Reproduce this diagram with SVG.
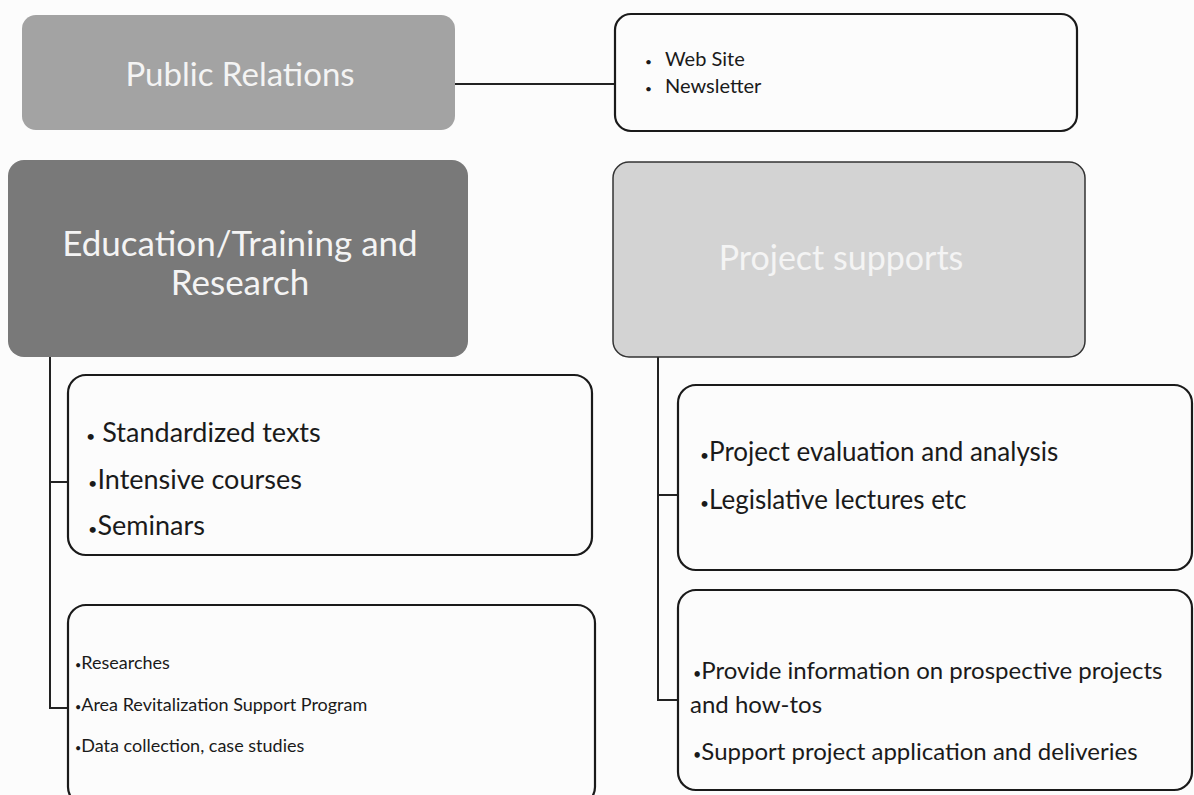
<svg xmlns="http://www.w3.org/2000/svg" width="1194" height="795" viewBox="0 0 1194 795">
<style>
.hd{font-family:Lato,"Open Sans",sans-serif;fill:#f4f4f4;text-anchor:middle}
.bx{fill:#fcfcfc;stroke:#1a1a1a;stroke-width:2.2}
.t{font-family:Lato,"Open Sans",sans-serif;fill:#1a1a1a}
.b{font-size:60%}
.cn{fill:none;stroke:#222;stroke-width:2}
</style>
<rect width="1194" height="795" fill="#fcfcfc"/>
<g id="connectors">
<line class="cn" x1="455" y1="84" x2="615" y2="84"/>
<path class="cn" d="M50 357 V708 H68 M50 482 H68"/>
<path class="cn" d="M658 357 V700 H678 M658 495 H678"/>
</g>
<g id="public-relations">
<rect x="22" y="15" width="433" height="115" rx="14" fill="#a3a3a3"/>
<text class="hd" x="240" y="86" font-size="33">Public Relations</text>
</g>
<g id="pr-items">
<rect class="bx" x="615" y="14" width="462" height="117" rx="16"/>
<text class="t" font-size="20"><tspan x="645" y="66" class="b">•</tspan><tspan x="665" y="66">Web Site</tspan><tspan x="645" y="93" class="b">•</tspan><tspan x="665" y="93">Newsletter</tspan></text>
</g>
<g id="education">
<rect x="8" y="160" width="460" height="197" rx="16" fill="#797979"/>
<text class="hd" font-size="35"><tspan x="240" y="256">Education/Training and</tspan><tspan x="240" y="295">Research</tspan></text>
</g>
<g id="project-supports">
<rect x="613" y="162" width="472" height="195" rx="16" fill="#d3d3d3" stroke="#333" stroke-width="1.5"/>
<text class="hd" x="841" y="270" font-size="34" fill="#fafafa">Project supports</text>
</g>
<g id="edu-courses">
<rect class="bx" x="68" y="375" width="524" height="180" rx="18"/>
<text class="t" font-size="27"><tspan x="86" y="442"><tspan class="b">•</tspan> Standardized texts</tspan><tspan x="88" y="489"><tspan class="b">•</tspan>Intensive courses</tspan><tspan x="88" y="535"><tspan class="b">•</tspan>Seminars</tspan></text>
</g>
<g id="edu-research">
<rect class="bx" x="68" y="605" width="527" height="200" rx="18"/>
<text class="t" font-size="18"><tspan x="75" y="669"><tspan class="b">•</tspan>Researches</tspan><tspan x="75" y="711"><tspan class="b">•</tspan>Area Revitalization Support Program</tspan><tspan x="75" y="752"><tspan class="b">•</tspan>Data collection, case studies</tspan></text>
</g>
<g id="ps-evaluation">
<rect class="bx" x="678" y="385" width="514" height="185" rx="18"/>
<text class="t" font-size="26"><tspan x="700" y="461"><tspan class="b">•</tspan>Project evaluation and analysis</tspan><tspan x="700" y="509"><tspan class="b">•</tspan>Legislative lectures etc</tspan></text>
</g>
<g id="ps-information">
<rect class="bx" x="678" y="590" width="514" height="200" rx="18"/>
<text class="t" font-size="24"><tspan x="693" y="679"><tspan class="b">•</tspan>Provide information on prospective projects</tspan><tspan x="690" y="713">and how-tos</tspan><tspan x="693" y="760"><tspan class="b">•</tspan>Support project application and deliveries</tspan></text>
</g>
</svg>
